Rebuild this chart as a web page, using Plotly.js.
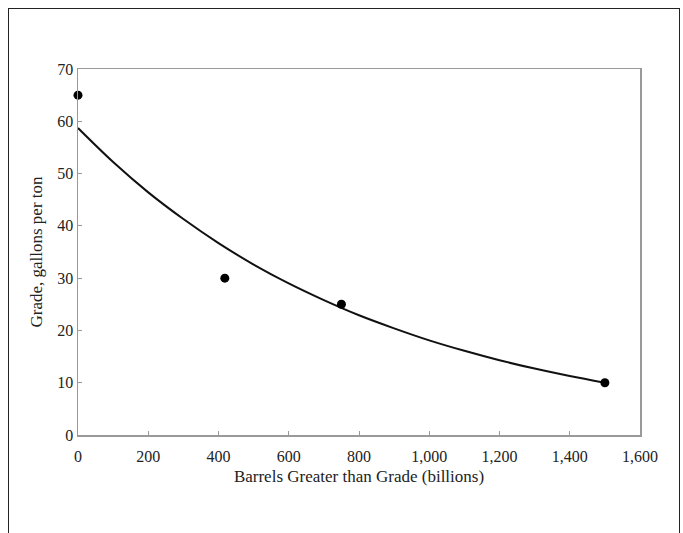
<!DOCTYPE html>
<html>
<head>
<meta charset="utf-8">
<script src="https://cdn.plot.ly/plotly-3.0.1.min.js"></script>
<style>
html,body{margin:0;padding:0;background:#fff;}
#frame{position:absolute;left:8px;top:8px;width:670px;height:540px;border:1.5px solid #222;border-bottom:none;pointer-events:none;z-index:5;}
#chart{position:absolute;left:0;top:0;width:683px;height:533px;}
</style>
</head>
<body>
<div id="chart"></div>
<div id="frame"></div>
<script>
// Observed data points
const pointX = [0, 418, 750, 1500];
const pointY = [65, 30, 25, 10];

// Fitted curve
const curveX = [0, 100, 200, 300, 400, 500, 600, 700, 800, 900, 1000, 1100, 1200, 1300, 1400, 1500];
const curveY = [58.7, 52.2, 46.4, 41.3, 36.7, 32.6, 29.0, 25.8, 22.9, 20.4, 18.1, 16.1, 14.3, 12.7, 11.3, 10.0];

const xTicks = [0, 200, 400, 600, 800, 1000, 1200, 1400, 1600];
const xTickLabels = ['0', '200', '400', '600', '800', '1,000', '1,200', '1,400', '1,600'];
const yTicks = [0, 10, 20, 30, 40, 50, 60, 70];

const fam = '"Liberation Serif", "DejaVu Serif", serif';
const tickFont = {family: fam, size: 16, color: '#222'};
const titleFont = {family: fam, size: 17, color: '#222'};

const traces = [
  {x: curveX, y: curveY, mode: 'lines', type: 'scatter', line: {color: '#111', width: 2, shape: 'spline'}, hoverinfo: 'skip'},
  {x: pointX, y: pointY, mode: 'markers', type: 'scatter', marker: {color: '#000', size: 9, symbol: 'circle'}, cliponaxis: false}
];

const layout = {
  width: 683, height: 533,
  margin: {l: 78, r: 43, t: 69, b: 98},
  paper_bgcolor: '#fff', plot_bgcolor: '#fff',
  showlegend: false,
  font: tickFont,
  xaxis: {
    range: [0, 1600], tickvals: xTicks, ticktext: xTickLabels,
    showgrid: false, zeroline: false, showline: true, mirror: true,
    linecolor: '#999', linewidth: 1.5, ticks: 'inside', ticklen: 4, tickcolor: '#999',
    tickfont: tickFont, ticklabelstandoff: 6,
    title: {text: 'Barrels Greater than Grade (billions)', font: titleFont, standoff: 6}
  },
  yaxis: {
    range: [0, 70], tickvals: yTicks,
    showgrid: false, zeroline: false, showline: true, mirror: true,
    linecolor: '#999', linewidth: 1.5, ticks: 'inside', ticklen: 4, tickcolor: '#999',
    tickfont: tickFont,
    title: {text: 'Grade, gallons per ton', font: titleFont, standoff: 10}
  }
};

Plotly.newPlot('chart', traces, layout, {displayModeBar: false, staticPlot: true});
</script>
</body>
</html>
